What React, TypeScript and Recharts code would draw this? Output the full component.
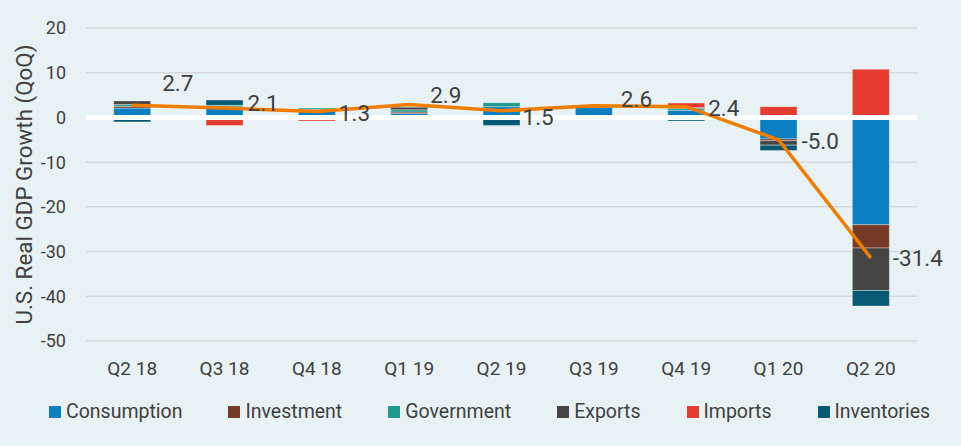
import React from 'react';
import {
  ComposedChart,
  Bar,
  Line,
  XAxis,
  YAxis,
  CartesianGrid,
  ReferenceLine,
  LabelList,
} from 'recharts';

const categories = ['Q2 18', 'Q3 18', 'Q4 18', 'Q1 19', 'Q2 19', 'Q3 19', 'Q4 19', 'Q1 20', 'Q2 20'];
const consumption = [2.1, 2.2, 1.6, 0.9, 2.4, 2.3, 1.6, -4.8, -24.0];
const investment = [0.4, 0.2, 0.2, 0.3, 0, 0, 0, -0.4, -5.2];
const government = [0.4, 0.3, 0.3, 0.5, 0.9, 0, 0.4, 0, 0];
const exportsC = [0.8, 0, 0, 0.6, 0, 0, 0.2, -1.0, -9.5];
const imports = [0, -1.8, -0.8, 0, -0.3, 0, 1.0, 2.4, 10.8];
const inventories = [-1.0, 1.2, 0, 0, -1.5, 0, -0.8, -1.2, -3.5];
const gdpGrowth = [2.7, 2.1, 1.3, 2.9, 1.5, 2.6, 2.4, -5.0, -31.4];
const yTicks = [-50, -40, -30, -20, -10, 0, 10, 20];

// label nudges (style, not data)
const LABEL_DX = [30, 23, 22, 21, 21, 27, 22, 23, 22];
const LABEL_DY = [-22, -5, 1, -9.5, 6, -7, 1, 1, 0];

const data = categories.map((q, i) => ({
  q,
  consumption: consumption[i],
  investment: investment[i],
  government: government[i],
  exports: exportsC[i],
  imports: imports[i],
  inventories: inventories[i],
  gdp: gdpGrowth[i],
}));

const series = [
  { key: 'consumption', name: 'Consumption', color: '#0b7fc1' },
  { key: 'investment', name: 'Investment', color: '#763a28' },
  { key: 'government', name: 'Government', color: '#1f9a8b' },
  { key: 'exports', name: 'Exports', color: '#454545' },
  { key: 'imports', name: 'Imports', color: '#e63b30' },
  { key: 'inventories', name: 'Inventories', color: '#065a73' },
];

const FONT = 'Roboto, sans-serif';
const BG = '#e8f1f4';
const TEXT = '#404040';

const GdpLabel = (props: any) => {
  const { x, y, value, index } = props;
  return (
    <text
      x={x + LABEL_DX[index]}
      y={y + LABEL_DY[index]}
      dominantBaseline="central"
      textAnchor="start"
      fontFamily={FONT}
      fontSize={22.5}
      fill={TEXT}
    >
      {Number(value).toFixed(1)}
    </text>
  );
};

const YTitle = (props: any) => {
  const vb = props.viewBox || { x: 0, y: 28, width: 86, height: 313 };
  const cx = 24;
  const cy = vb.y + vb.height / 2;
  return (
    <text
      x={cx}
      y={cy}
      transform={`rotate(-90 ${cx} ${cy})`}
      textAnchor="middle"
      dominantBaseline="central"
      fontFamily={FONT}
      fontSize={22.4}
      fill={TEXT}
    >
      U.S. Real GDP Growth (QoQ)
    </text>
  );
};

export default function App() {
  return (
    <div
      style={{
        position: 'fixed',
        left: 0,
        top: 0,
        width: 961,
        height: 446,
        background: BG,
        overflow: 'hidden',
      }}
    >
      <ComposedChart
        width={961}
        height={446}
        data={data}
        stackOffset="sign"
        barCategoryGap="30%"
        margin={{ top: 28, right: 44, bottom: 75, left: 0 }}
      >
        <CartesianGrid horizontal vertical={false} stroke="#d5d9db" strokeWidth={1.5} />
        <XAxis
          dataKey="q"
          axisLine={false}
          tickLine={false}
          tickMargin={15}
          height={30}
          interval={0}
          tick={{ fontFamily: FONT, fontSize: 19, fill: TEXT }}
        />
        <YAxis
          width={86}
          domain={[-50, 20]}
          ticks={yTicks}
          axisLine={false}
          tickLine={false}
          tickMargin={14}
          tick={{ fontFamily: FONT, fontSize: 18, fill: TEXT }}
          label={<YTitle />}
        />
        {series.map((s) => (
          <Bar
            key={s.key}
            dataKey={s.key}
            name={s.name}
            stackId="a"
            fill={s.color}
            stroke="rgba(255,255,255,0.35)"
            strokeWidth={1}
            isAnimationActive={false}
          />
        ))}
        <ReferenceLine y={0} stroke="#ffffff" strokeWidth={5} />
        <Line
          type="linear"
          dataKey="gdp"
          stroke="#f07d00"
          strokeWidth={3.5}
          dot={false}
          activeDot={false}
          isAnimationActive={false}
        >
          <LabelList dataKey="gdp" content={<GdpLabel />} />
        </Line>
      </ComposedChart>
      <div
        style={{
          position: 'absolute',
          left: 49,
          top: 401,
          display: 'flex',
          alignItems: 'center',
          fontFamily: FONT,
          fontSize: 19.5,
          lineHeight: '22px',
          color: TEXT,
          whiteSpace: 'nowrap',
        }}
      >
        {series.map((s) => (
          <div key={s.key} style={{ display: 'flex', alignItems: 'center', marginRight: 46 }}>
            <span
              style={{
                display: 'inline-block',
                width: 12,
                height: 12,
                background: s.color,
                marginRight: 5,
              }}
            />
            <span>{s.name}</span>
          </div>
        ))}
      </div>
    </div>
  );
}
